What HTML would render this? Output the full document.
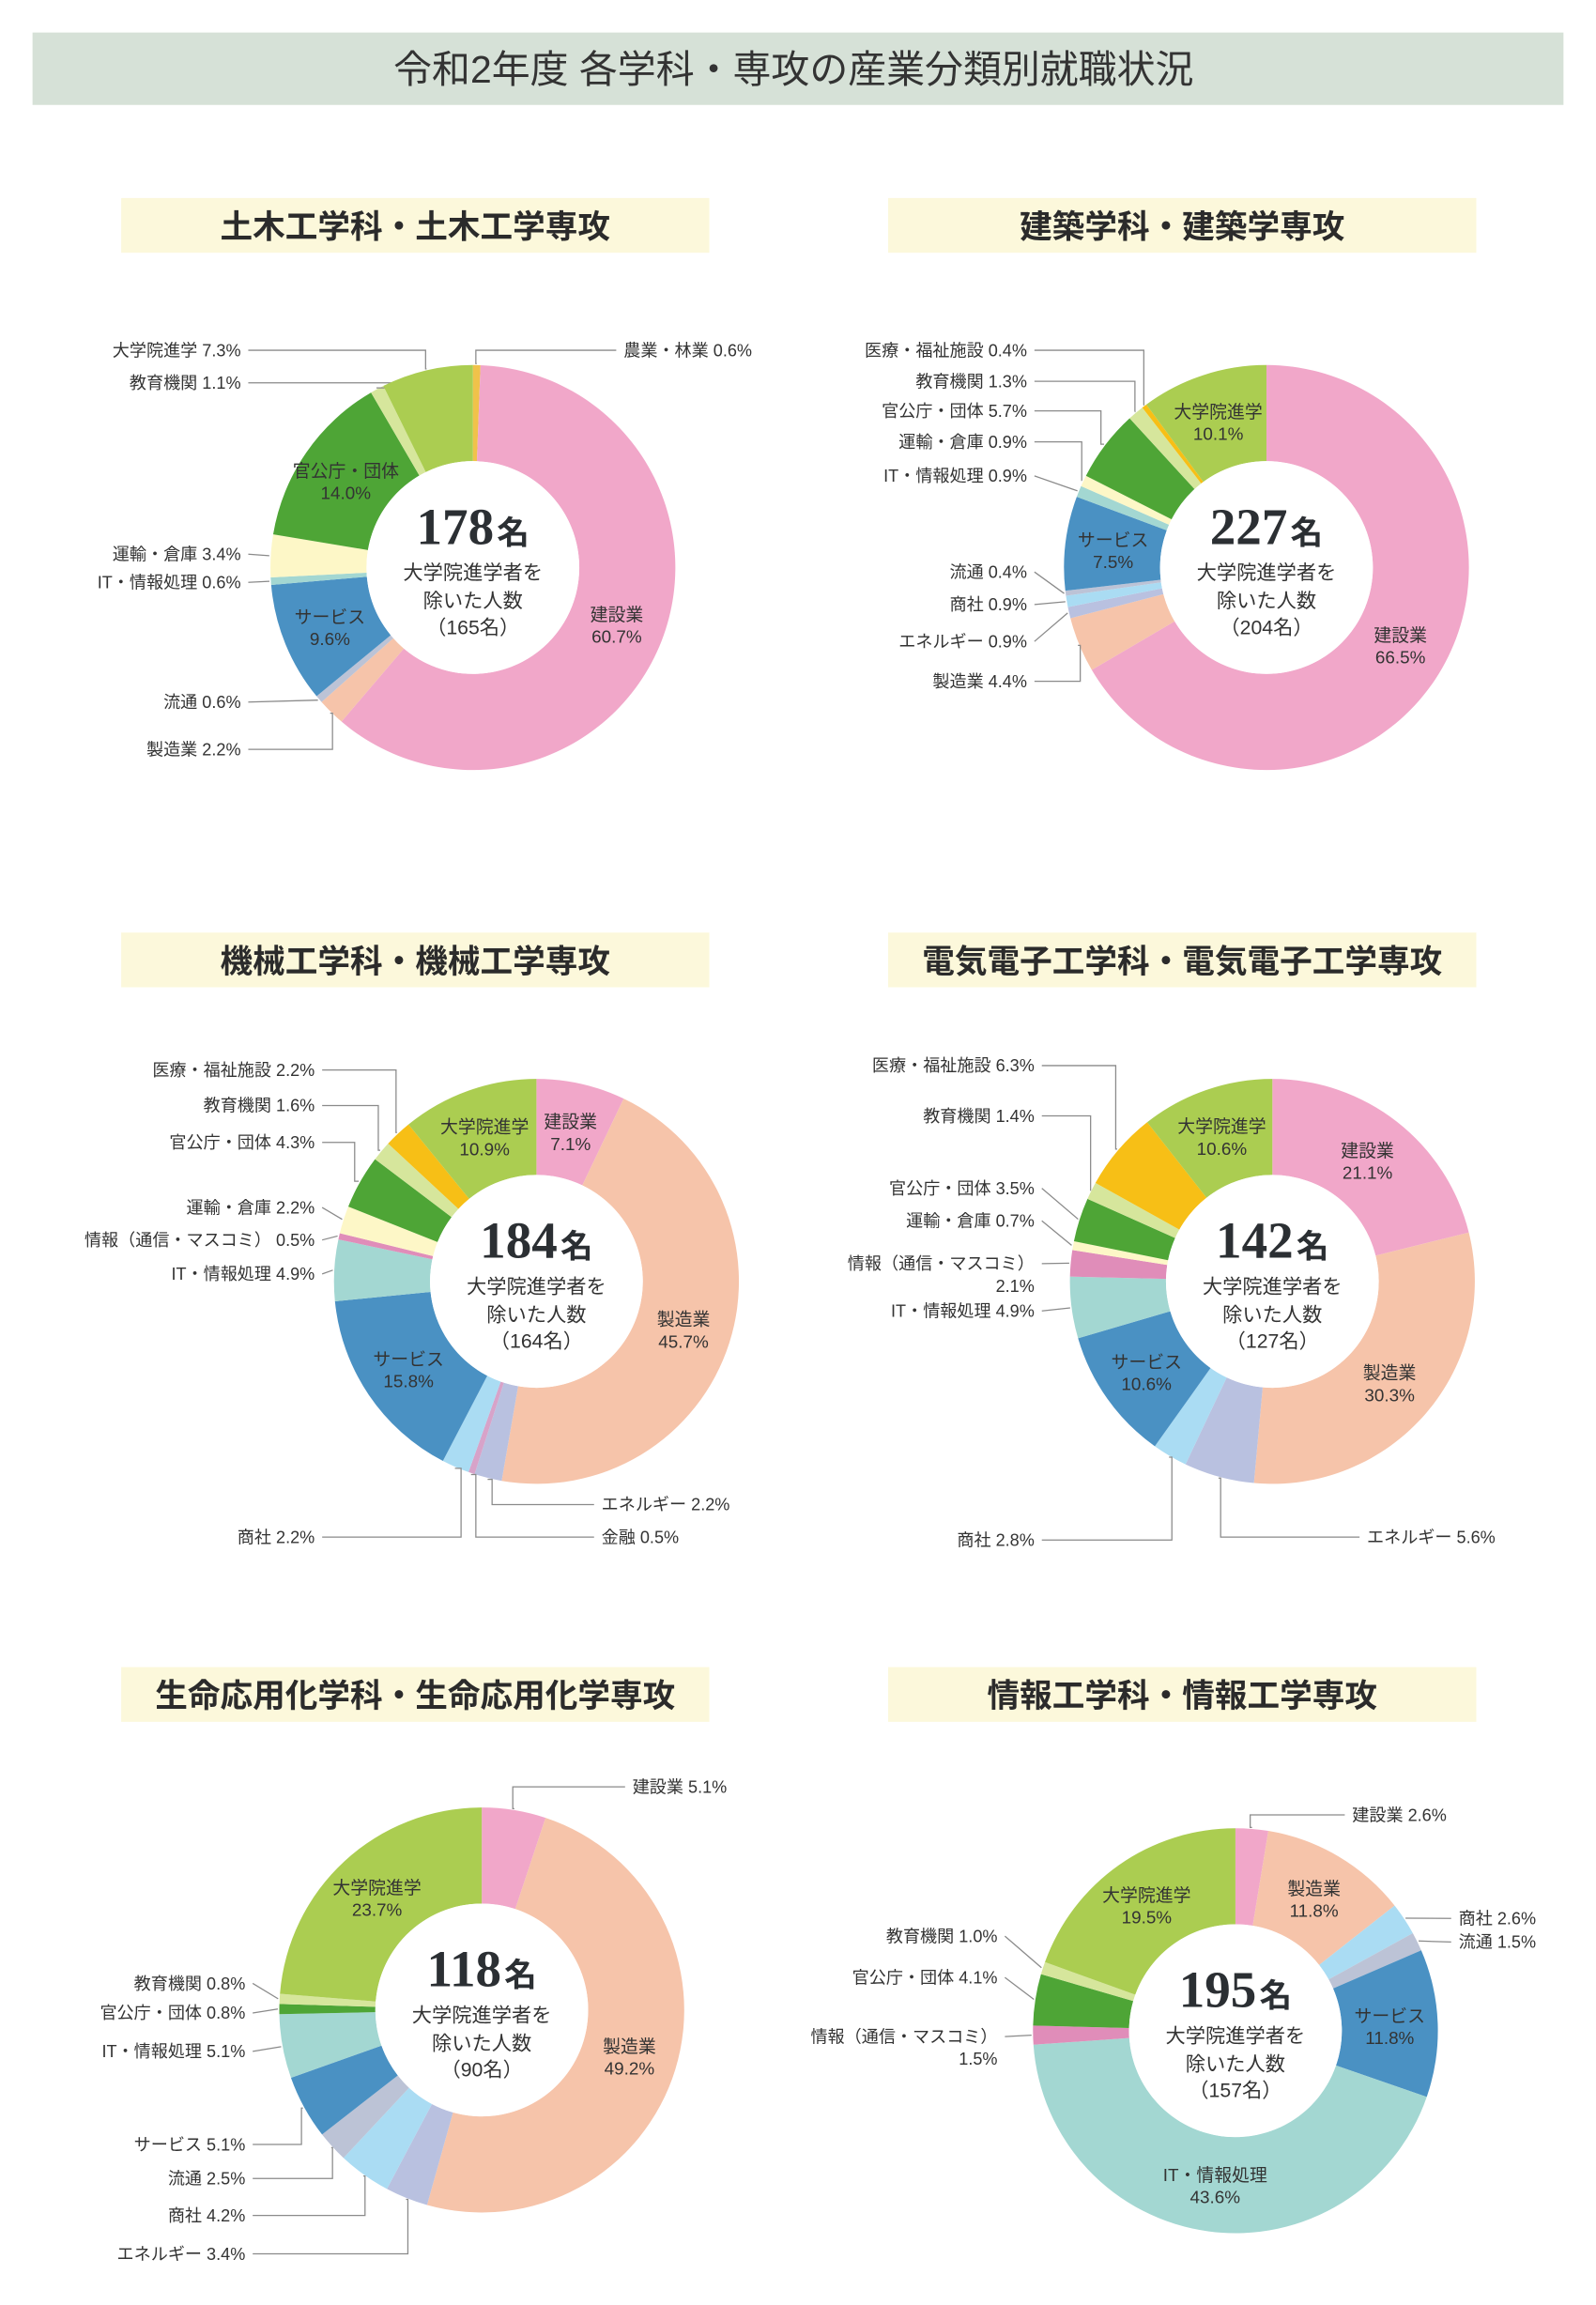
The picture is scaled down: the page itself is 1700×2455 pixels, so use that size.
<!DOCTYPE html>
<html><head><meta charset="utf-8">
<style>
html,body{margin:0;padding:0;background:#fff;}
svg{display:block;font-family:"Liberation Sans","Noto Sans CJK JP",sans-serif;}
</style></head>
<body>
<svg id="root" xmlns="http://www.w3.org/2000/svg" width="1700" height="2455" viewBox="0 0 1080 1559.6" preserveAspectRatio="none">
<rect x="22" y="22" width="1036" height="49" fill="#d6e1d7"/>
<text x="537" y="56" text-anchor="middle" font-size="26" fill="#333">令和2年度 各学科・専攻の産業分類別就職状況</text>
</svg>
<script>
// ---- data ----
const c1Cats=["農業・林業","建設業","製造業","流通","サービス","IT・情報処理","運輸・倉庫","官公庁・団体","教育機関","大学院進学"];
const c1Vals=[0.6,60.7,2.2,0.6,9.6,0.6,3.4,14.0,1.1,7.3];
const c1Total=["178","165"];
const c2Cats=["建設業","製造業","エネルギー","商社","流通","サービス","IT・情報処理","運輸・倉庫","官公庁・団体","教育機関","医療・福祉施設","大学院進学"];
const c2Vals=[66.5,4.4,0.9,0.9,0.4,7.5,0.9,0.9,5.7,1.3,0.4,10.1];
const c2Total=["227","204"];
const c3Cats=["建設業","製造業","エネルギー","金融","商社","サービス","IT・情報処理","情報（通信・マスコミ）","運輸・倉庫","官公庁・団体","教育機関","医療・福祉施設","大学院進学"];
const c3Vals=[7.1,45.7,2.2,0.5,2.2,15.8,4.9,0.5,2.2,4.3,1.6,2.2,10.9];
const c3Total=["184","164"];
const c4Cats=["建設業","製造業","エネルギー","商社","サービス","IT・情報処理","情報（通信・マスコミ）","運輸・倉庫","官公庁・団体","教育機関","医療・福祉施設","大学院進学"];
const c4Vals=[21.1,30.3,5.6,2.8,10.6,4.9,2.1,0.7,3.5,1.4,6.3,10.6];
const c4Total=["142","127"];
const c5Cats=["建設業","製造業","エネルギー","商社","流通","サービス","IT・情報処理","官公庁・団体","教育機関","大学院進学"];
const c5Vals=[5.1,49.2,3.4,4.2,2.5,5.1,5.1,0.8,0.8,23.7];
const c5Total=["118","90"];
const c6Cats=["建設業","製造業","商社","流通","サービス","IT・情報処理","情報（通信・マスコミ）","官公庁・団体","教育機関","大学院進学"];
const c6Vals=[2.6,11.8,2.6,1.5,11.8,43.6,1.5,4.1,1.0,19.5];
const c6Total=["195","157"];

const colors={"建設業":"#f1a7c9","製造業":"#f6c4aa","エネルギー":"#b9c1e0","金融":"#d7a3c9","商社":"#aadcf3","流通":"#bcc3d6","サービス":"#4a91c3","IT・情報処理":"#a3d7d2","情報（通信・マスコミ）":"#e08db9","運輸・倉庫":"#fdf7c7","官公庁・団体":"#4ea536","教育機関":"#d6e69c","医療・福祉施設":"#f7bf16","大学院進学":"#abcd51","農業・林業":"#f0c24a"};

// ---- layout (label placement per category: 'in' or [side, y, elbowX]) ----
const charts=[
 {title:"土木工学科・土木工学専攻",bx:82,by:134,cx:320,cy:384,cats:c1Cats,vals:c1Vals,tot:c1Total,lx:163,rx:422,
  lab:{"農業・林業":["R",237,322],"建設業":"in","製造業":["L",507,225],"流通":["L",475,null],"サービス":"in","IT・情報処理":["L",394,null],"運輸・倉庫":["L",375,null],"官公庁・団体":"in","教育機関":["L",259,265],"大学院進学":["L",237,288]}},
 {title:"建築学科・建築学専攻",bx:601,by:134,cx:857,cy:384,cats:c2Cats,vals:c2Vals,tot:c2Total,lx:695,rx:0,
  lab:{"建設業":"in","製造業":["L",461,731],"エネルギー":["L",434,null],"商社":["L",409,null],"流通":["L",387,null],"サービス":"in","IT・情報処理":["L",322,null],"運輸・倉庫":["L",299,732],"官公庁・団体":["L",278,745],"教育機関":["L",258,768],"医療・福祉施設":["L",237,774],"大学院進学":"in"}},
 {title:"機械工学科・機械工学専攻",bx:82,by:631,cx:363,cy:867,cats:c3Cats,vals:c3Vals,tot:c3Total,lx:213,rx:407,
  lab:{"建設業":"in","製造業":"in","エネルギー":["R",1018,333],"金融":["R",1040,322],"商社":["L",1040,312],"サービス":"in","IT・情報処理":["L",862,null],"情報（通信・マスコミ）":["L",839,null],"運輸・倉庫":["L",817,null],"官公庁・団体":["L",773,240],"教育機関":["L",748,256],"医療・福祉施設":["L",724,268],"大学院進学":"in"}},
 {title:"電気電子工学科・電気電子工学専攻",bx:601,by:631,cx:861,cy:867,cats:c4Cats,vals:c4Vals,tot:c4Total,lx:700,rx:925,
  lab:{"建設業":"in","製造業":"in","エネルギー":["R",1040,826],"商社":["L",1042,793],"サービス":"in","IT・情報処理":["L",887,null],"情報（通信・マスコミ）":["L",855,null,"two"],"運輸・倉庫":["L",826,null],"官公庁・団体":["L",804,null],"教育機関":["L",755,738],"医療・福祉施設":["L",721,755],"大学院進学":"in"}},
 {title:"生命応用化学科・生命応用化学専攻",bx:82,by:1128,cx:326,cy:1360,cats:c5Cats,vals:c5Vals,tot:c5Total,lx:166,rx:428,
  lab:{"建設業":["R",1209,347],"製造業":"in","エネルギー":["L",1525,276],"商社":["L",1499,247],"流通":["L",1474,225],"サービス":["L",1451,204],"IT・情報処理":["L",1388,null],"官公庁・団体":["L",1362,null],"教育機関":["L",1342,null],"大学院進学":"in"}},
 {title:"情報工学科・情報工学専攻",bx:601,by:1128,cx:836,cy:1374,cats:c6Cats,vals:c6Vals,tot:c6Total,lx:675,rx:915,
  lab:{"建設業":["R",1228,846],"製造業":"in","商社":["R2",1298,null],"流通":["R2",1314,null],"サービス":"in","IT・情報処理":"in","情報（通信・マスコミ）":["L",1378,null,"two"],"官公庁・団体":["L",1338,null],"教育機関":["L",1310,null],"大学院進学":"in"}}
];
const R=137, r=72, NS="http://www.w3.org/2000/svg";
const svg=document.getElementById('root');
function mk(tag,attrs,parent){const e=document.createElementNS(NS,tag);for(const k in attrs)e.setAttribute(k,attrs[k]);(parent||svg).appendChild(e);return e;}
function pt(cx,cy,rad,frac){const a=frac*2*Math.PI;return [cx+rad*Math.sin(a),cy-rad*Math.cos(a)];}
function txt(x,y,s,size,anchor,parent,fill){const t=mk('text',{x:x,y:y,'font-size':size,'text-anchor':anchor,fill:fill||'#333'},parent);t.textContent=s;return t;}

charts.forEach((c,ci)=>{
  const g=mk('g',{});
  
  
  const box=mk('rect',{x:c.bx,y:c.by,width:398,height:37,fill:'#fcf8db'},g);
  
  
  const tt=txt(c.bx+199,c.by+27,c.title,22,'middle',g,'#2b2b2b');
  tt.setAttribute('font-weight','bold');
  
  
  const sum=c.vals.reduce((a,b)=>a+b,0);
  let cum=0;
  c.cats.forEach((cat,i)=>{
    const f0=cum/sum, f1=(cum+c.vals[i])/sum, fm=(f0+f1)/2; cum+=c.vals[i];
    const p0=pt(c.cx,c.cy,R,f0),p1=pt(c.cx,c.cy,R,f1),q1=pt(c.cx,c.cy,r,f1),q0=pt(c.cx,c.cy,r,f0);
    const large=(f1-f0)>0.5?1:0;
    const d=`M${p0[0]},${p0[1]} A${R},${R} 0 ${large} 1 ${p1[0]},${p1[1]} L${q1[0]},${q1[1]} A${r},${r} 0 ${large} 0 ${q0[0]},${q0[1]} Z`;
    const s=mk('path',{d:d,fill:colors[cat]||'#ccc'},g);
    
    
    const L=c.lab[cat];
    const label=cat+' '+c.vals[i].toFixed(1)+'%';
    if(L==='in'){
      const m=pt(c.cx,c.cy,(R+r)/2,fm);
      const t1=txt(m[0],m[1]-2,cat,12,'middle',g);
      
      
      const t2=txt(m[0],m[1]+13,c.vals[i].toFixed(1)+'%',12,'middle',g);
      
      
    } else if(L){
      const side=L[0], y=L[1], ex=L[2];
      const edge=pt(c.cx,c.cy,R+1,fm);
      let t,x0;
      if(side==='L'){
        if(L[3]==='two'){
          t=txt(c.lx,y+4,cat,11.5,'end',g);
          const t2=txt(c.lx,y+19,c.vals[i].toFixed(1)+'%',11.5,'end',g);
          
          
        } else t=txt(c.lx,y+4,label,11.5,'end',g);
        x0=c.lx+5;
      } else if(side==='R'){
        t=txt(c.rx,y+4,label,11.5,'start',g); x0=c.rx-5;
      } else {
        t=txt(987,y+4,label,11.5,'start',g); x0=982;
      }
      
      
      const pts=ex!==null?`${x0},${y} ${ex},${y} ${ex},${edge[1]+(side==='L'&&ex<c.cx?0:0)} ${edge[0]},${edge[1]}`:`${x0},${y} ${edge[0]},${edge[1]}`;
      const ln=mk('polyline',{points:pts,fill:'none',stroke:'#8a8a8a','stroke-width':0.8},g);
      
      
    }
  });
  const hole=mk('circle',{cx:c.cx,cy:c.cy,r:r,fill:'#fff'},g);
  
  
  const big=mk('text',{x:c.cx,y:c.cy-16,'text-anchor':'middle',fill:'#2b2f33'},g);
  
  
  const n1=mk('tspan',{'font-size':35,'font-weight':'bold','font-family':'"Liberation Serif","Noto Serif CJK SC",serif'},big);n1.textContent=c.tot[0];
  const n2=mk('tspan',{'font-size':22,'font-weight':'bold',dx:2},big);n2.textContent='名';
  const l1=txt(c.cx,c.cy+8,'大学院進学者を',13.5,'middle',g);
  
  
  const l2=txt(c.cx,c.cy+27,'除いた人数',13.5,'middle',g);
  
  
  const l3=txt(c.cx,c.cy+45,'（'+c.tot[1]+'名）',13.5,'middle',g);
  
  
});
</script>
</body></html>
